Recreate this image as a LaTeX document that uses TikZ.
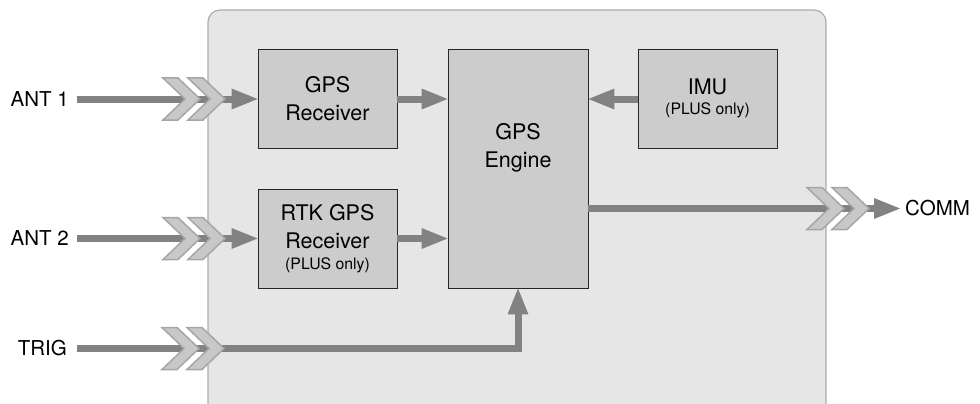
\documentclass[tikz,border=0pt]{standalone}
\usepackage{fontspec}
\setmainfont{TeX Gyre Heros}
\usetikzlibrary{arrows.meta}
\definecolor{contfill}{HTML}{E6E6E6}
\definecolor{contline}{HTML}{ADADAD}
\definecolor{boxfill}{HTML}{CCCCCC}
\definecolor{arrowgray}{HTML}{828282}
\definecolor{chevfill}{HTML}{C8C8C8}
\definecolor{chevline}{HTML}{A6A6A6}
\newcommand{\maintxt}{\fontsize{21.5}{28}\selectfont}
\newcommand{\lbltxt}{\fontsize{20.5}{26}\selectfont}
\newcommand{\smalltxt}{\fontsize{15.8}{20}\selectfont}
\tikzset{
  container/.style={draw=contline, fill=contfill, line width=1.2pt, rounded corners=12pt,
    minimum width=618pt, minimum height=430pt, inner sep=0pt},
  blockbox/.style={draw=black!85, fill=boxfill, line width=0.9pt, inner sep=0pt,
    minimum width=139pt, minimum height=99pt, align=center, font=\maintxt},
  flow/.style={draw=arrowgray, line width=7pt,
    -{Triangle[length=26pt,width=21pt,line width=0pt]}},
  iolabel/.style={inner sep=0pt, font=\lbltxt},
  chevstyle/.style={fill=chevfill, draw=chevline, line width=1.5pt, line join=miter},
  chev/.pic={
    \foreach \dx in {0,25}{
      \draw[chevstyle] (\dx,-21) -- ++(15,0) -- ++(22,21) -- ++(-22,21) -- ++(-15,0) -- ++(22,-21) -- cycle;
    }
  }
}
\begin{document}
\begin{tikzpicture}[x=1pt,y=-1pt]
\useasboundingbox (0,0) rectangle (980,404);
\clip (0,0) rectangle (980,404);
% container
\node[container] (board) at (517,225) {};
% blocks
\node[blockbox] (gpsr) at (327.5,98.5) {GPS\\Receiver};
\node[blockbox] (rtk) at (327.5,238.5) {RTK GPS\\Receiver\\[-7pt]{\smalltxt (PLUS only)}};
\node[blockbox, minimum width=140pt, minimum height=239pt] (engine) at (518,168.5) {};
\node[font=\maintxt, align=center, inner sep=0pt] (engtxt) at (518,148) {GPS\\Engine};
\node[blockbox] (imu) at (707.5,98.5) {IMU\\[-8pt]{\smalltxt (PLUS only)}};
% labels
\node[iolabel, anchor=east] (ant1) at (69,99.5) {ANT 1};
\node[iolabel, anchor=east] (ant2) at (69,238.5) {ANT 2};
\node[iolabel, anchor=east] (trig) at (67,348.5) {TRIG};
\node[iolabel, anchor=west] (comm) at (905,208.5) {COMM};
\coordinate (a1s) at (77,99);
\coordinate (a2s) at (77,238.5);
\coordinate (ts) at (77,348.5);
\coordinate (cend) at (900,208.5);
% connectors
\draw[flow] (a1s) -- (gpsr.west |- a1s);
\draw[flow] (a2s) -- (rtk.west |- a2s);
\draw[flow] (ts) -| (engine.south);
\draw[flow] (gpsr.east |- a1s) -- (engine.west |- a1s);
\draw[flow] (rtk.east |- a2s) -- (engine.west |- a2s);
\draw[flow] (imu.west |- a1s) -- (engine.east |- a1s);
\draw[flow] (engine.east |- cend) -- (cend);
% chevrons
\pic (c1) at (163,99) {chev};
\pic (c2) at (163,238.5) {chev};
\pic (c3) at (162,348.5) {chev};
\pic (c4) at (807,208.5) {chev};
\end{tikzpicture}
\end{document}
